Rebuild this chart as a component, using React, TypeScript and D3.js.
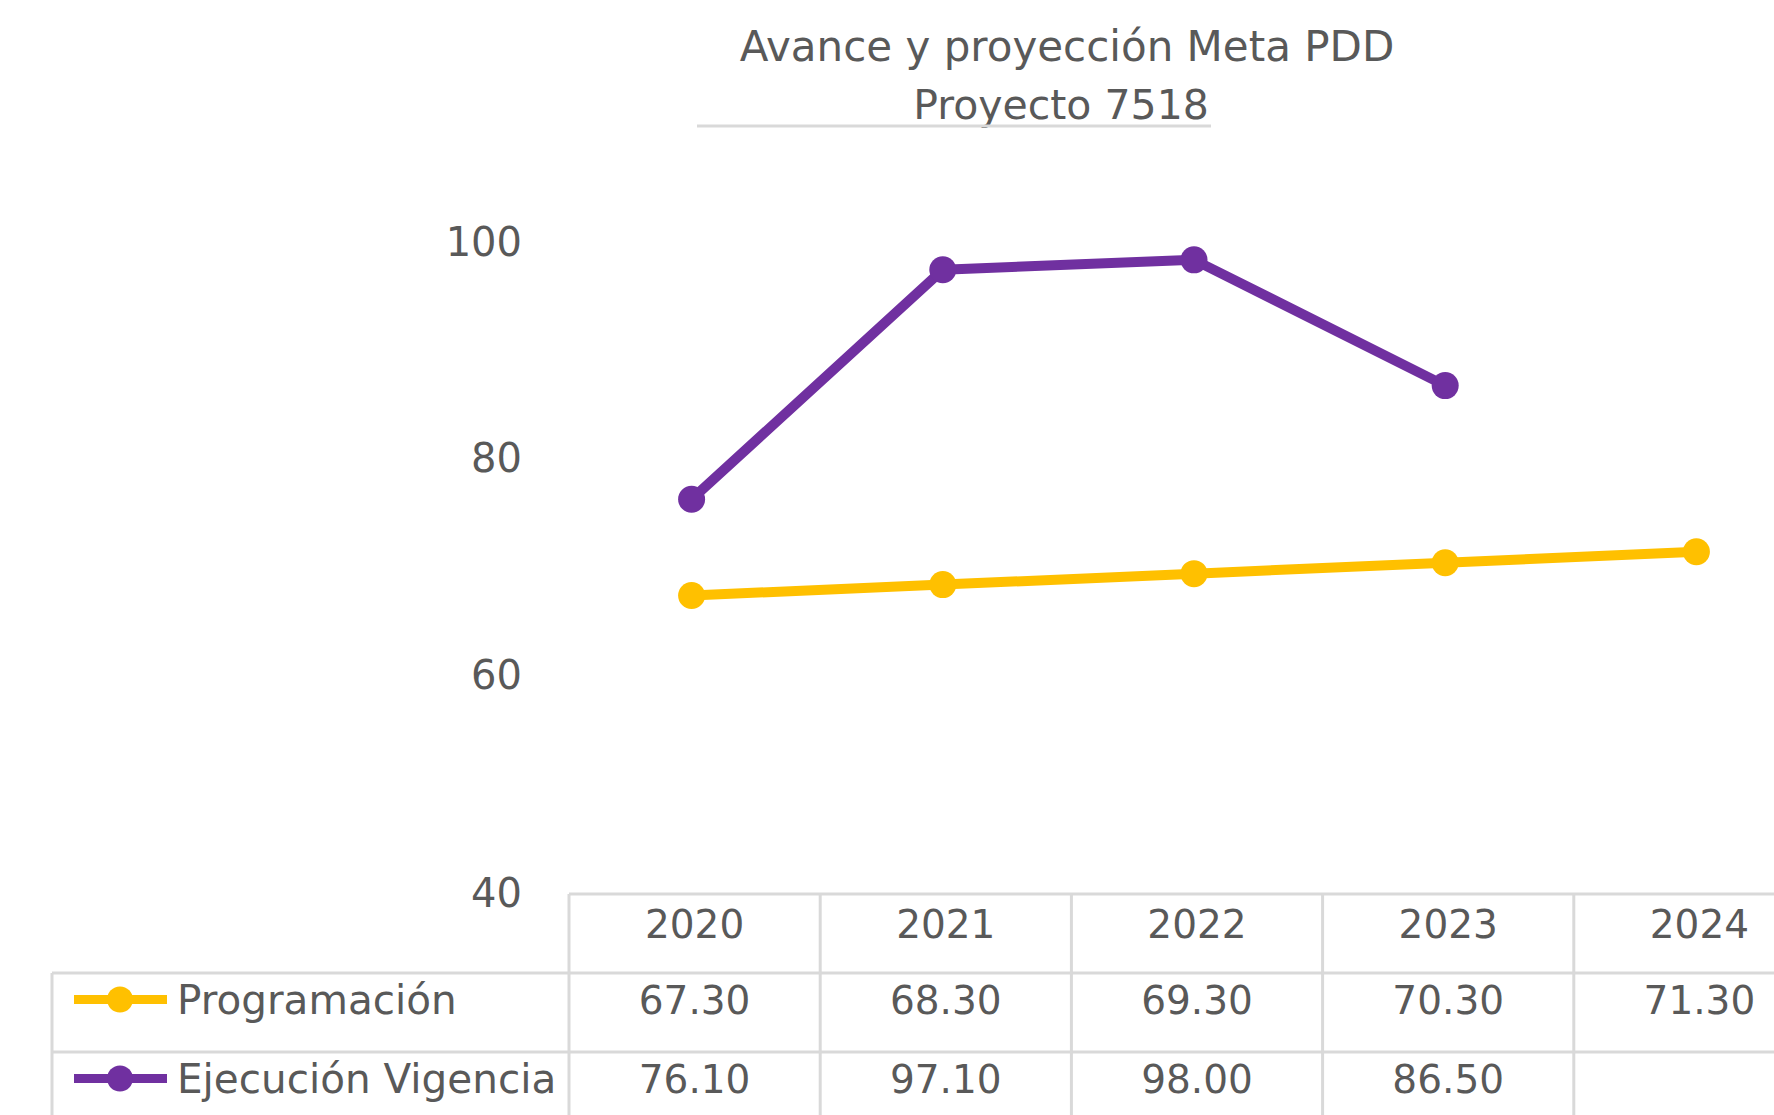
import React, { useEffect, useRef } from 'react';
import * as d3 from 'd3';

const width = 1774;
const height = 1115;

const years = ['2020', '2021', '2022', '2023', '2024'];
const programacion = [67.3, 68.3, 69.3, 70.3, 71.3];
const ejecucion: (number | null)[] = [76.1, 97.1, 98.0, 86.5, null];
const yTicks = [40, 60, 80, 100];
const titleLines = ['Avance y proyección Meta PDD', 'Proyecto 7518'];

const series = [
    { name: 'Programación', values: programacion, color: '#FFC000' },
    { name: 'Ejecución Vigencia', values: ejecucion, color: '#7030A0' },
];

const font = '"DejaVu Sans", sans-serif';
const textColor = '#595959';
const gridColor = '#d9d9d9';

// table geometry
const tableLeft = 52;
const plotLeft = 569;
const colWidth = 251.2;
const tableTop = 894;
const rowHeight = 79;
const headerShift = -10;
const rowShift = -13;

export default function App() {
    const ref = useRef<SVGSVGElement>(null);

    useEffect(() => {
        const svg = d3.select(ref.current);
        svg.selectAll('*').remove();

        const x = d3.scaleBand<string>()
            .domain(years)
            .range([plotLeft, plotLeft + colWidth * years.length])
            .paddingInner(0)
            .paddingOuter(0);
        const y = d3.scaleLinear()
            .domain([40, 100])
            .range([894, 238]);
        const cx = (yr: string) => x(yr)! + x.bandwidth() / 2 - 3;

        // title
        svg.append('text')
            .attr('x', 1067)
            .attr('y', 61)
            .attr('text-anchor', 'middle')
            .attr('font-family', font)
            .attr('font-size', 42)
            .attr('fill', textColor)
            .text(titleLines[0]);
        svg.append('text')
            .attr('x', 1061)
            .attr('y', 119)
            .attr('text-anchor', 'middle')
            .attr('font-family', font)
            .attr('font-size', 41)
            .attr('fill', textColor)
            .text(titleLines[1]);
        svg.append('line')
            .attr('x1', 697).attr('x2', 1211)
            .attr('y1', 126).attr('y2', 126)
            .attr('stroke', gridColor)
            .attr('stroke-width', 3);

        // y axis
        const yAxis = svg.append('g')
            .attr('transform', `translate(530,0)`)
            .call(d3.axisLeft(y).tickValues(yTicks).tickSize(0).tickPadding(8));
        yAxis.select('.domain').remove();
        yAxis.selectAll('text')
            .attr('font-family', font)
            .attr('font-size', 40)
            .attr('fill', textColor)
            .attr('dy', (d: any) => (d === 100 ? '0.44em' : d === 80 ? '0.38em' : '0.32em'));

        // data table grid
        const right = x.range()[1];
        const bottom = tableTop + rowHeight * 3;
        const grid = svg.append('g')
            .attr('stroke', gridColor)
            .attr('stroke-width', 3);
        grid.append('line')
            .attr('x1', plotLeft).attr('x2', right)
            .attr('y1', tableTop).attr('y2', tableTop);
        [1, 2, 3].forEach(i => {
            grid.append('line')
                .attr('x1', tableLeft).attr('x2', right)
                .attr('y1', tableTop + rowHeight * i).attr('y2', tableTop + rowHeight * i);
        });
        grid.append('line')
            .attr('x1', tableLeft).attr('x2', tableLeft)
            .attr('y1', tableTop + rowHeight).attr('y2', bottom);
        [...years.map(d => x(d)!), right].forEach(px => {
            grid.append('line')
                .attr('x1', px).attr('x2', px)
                .attr('y1', tableTop).attr('y2', bottom);
        });

        // header years
        svg.append('g')
            .selectAll('text')
            .data(years)
            .join('text')
            .attr('x', d => x(d)! + x.bandwidth() / 2)
            .attr('y', tableTop + rowHeight / 2 + headerShift)
            .attr('dy', '0.36em')
            .attr('text-anchor', 'middle')
            .attr('font-family', font)
            .attr('font-size', 39)
            .attr('fill', textColor)
            .text(d => d);

        const fmt = d3.format('.2f');

        series.forEach((s, si) => {
            const rowY = tableTop + rowHeight * (si + 1) + rowHeight / 2 + rowShift;

            // legend key
            svg.append('line')
                .attr('x1', 74).attr('x2', 167)
                .attr('y1', rowY).attr('y2', rowY)
                .attr('stroke', s.color)
                .attr('stroke-width', 9);
            svg.append('circle')
                .attr('cx', 120).attr('cy', rowY).attr('r', 13)
                .attr('fill', s.color);
            svg.append('text')
                .attr('x', 177)
                .attr('y', rowY)
                .attr('dy', '0.36em')
                .attr('font-family', font)
                .attr('font-size', 40.5)
                .attr('fill', textColor)
                .text(s.name);

            // values
            const pts = years
                .map((yr, i) => ({ yr, v: s.values[i] }))
                .filter(d => d.v != null) as { yr: string; v: number }[];

            svg.append('g')
                .selectAll('text')
                .data(pts)
                .join('text')
                .attr('x', d => x(d.yr)! + x.bandwidth() / 2)
                .attr('y', rowY)
                .attr('dy', '0.36em')
                .attr('text-anchor', 'middle')
                .attr('font-family', font)
                .attr('font-size', 39)
                .attr('fill', textColor)
                .text(d => fmt(d.v));

            // line + markers
            const line = d3.line<{ yr: string; v: number }>()
                .x(d => cx(d.yr))
                .y(d => y(d.v));
            svg.append('path')
                .datum(pts)
                .attr('fill', 'none')
                .attr('stroke', s.color)
                .attr('stroke-width', 10)
                .attr('stroke-linejoin', 'round')
                .attr('stroke-linecap', 'round')
                .attr('d', line);
            svg.append('g')
                .selectAll('circle')
                .data(pts)
                .join('circle')
                .attr('cx', d => cx(d.yr))
                .attr('cy', d => y(d.v))
                .attr('r', 13.5)
                .attr('fill', s.color);
        });
    }, []);

    return (
        <svg
            ref={ref}
            width={width}
            height={height}
            style={{ position: 'fixed', left: 0, top: 0, background: '#fff' }}
        />
    );
}
